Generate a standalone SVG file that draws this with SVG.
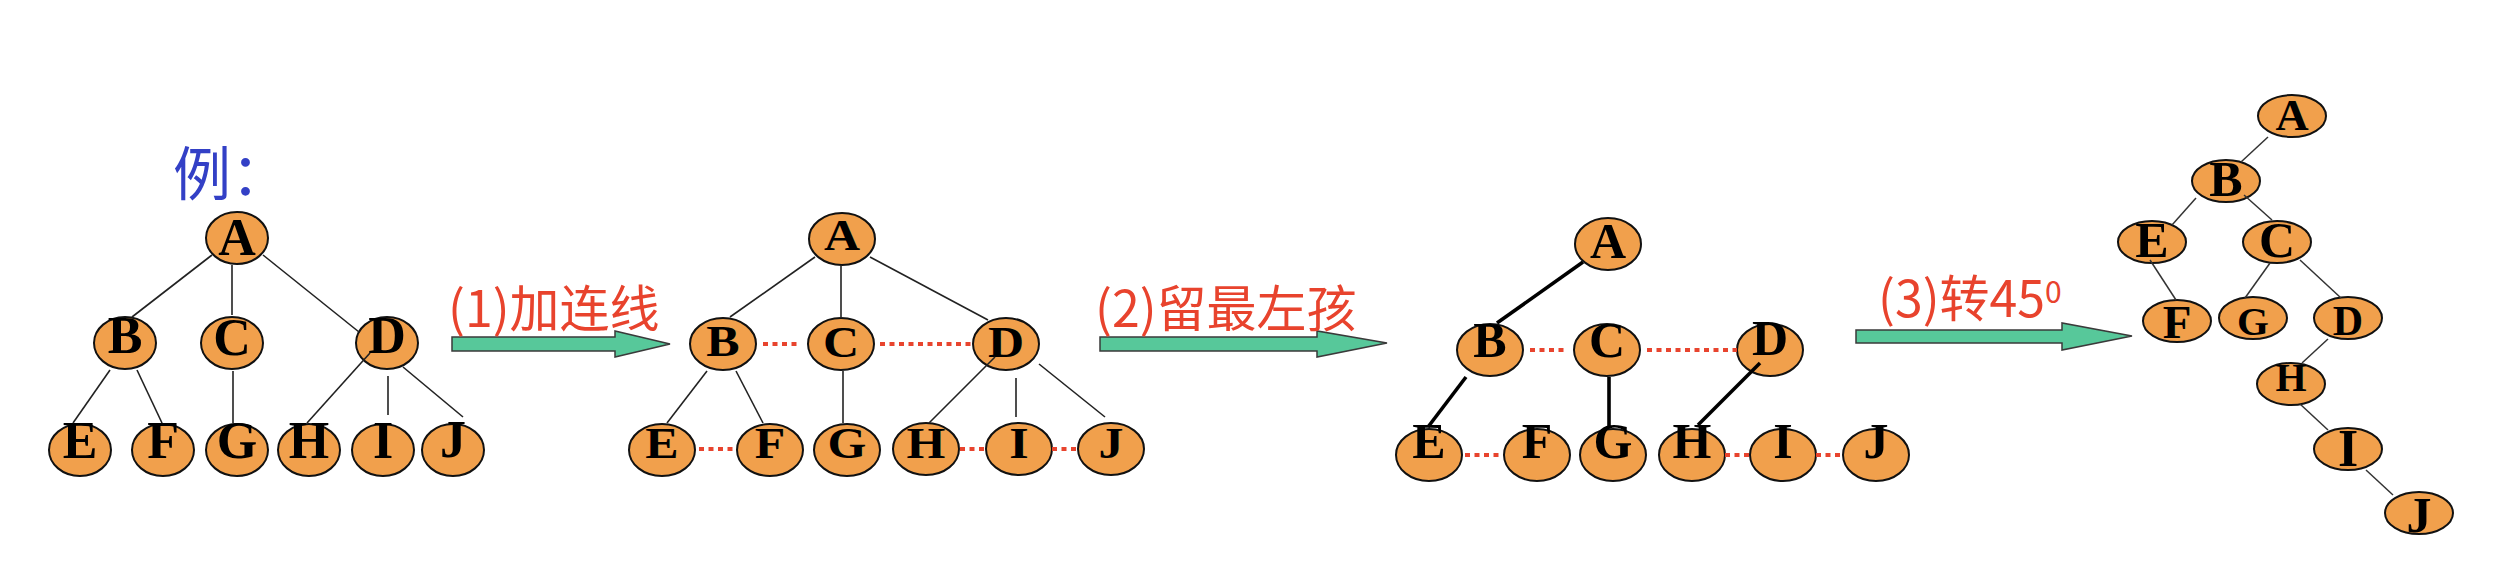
<svg xmlns="http://www.w3.org/2000/svg" width="2498" height="574" viewBox="0 0 2498 574">
<style>
.n ellipse{fill:#F1A04C;stroke:#111;stroke-width:2}
.n text{font-family:"Liberation Serif","Times New Roman",serif;font-weight:bold;fill:#000;text-anchor:middle}
.e1{stroke:#222;stroke-width:1.6;fill:none}
.e3{stroke:#000;stroke-width:3.6;fill:none}
.e4{stroke:#333;stroke-width:1.5;fill:none}
.dot{stroke:#E8442E;stroke-width:4;stroke-dasharray:5 4.5;fill:none}
.arr{fill:#57C89A;stroke:#3a3a3a;stroke-width:1.5}
.lbl{font-family:"Noto Sans CJK SC","Noto Sans",sans-serif;font-size:50px;fill:#E8432D}
</style>
<rect width="2498" height="574" fill="#fff"/>
<text x="173" y="195" style="font-family:'Noto Sans CJK SC','Noto Sans',sans-serif;font-size:58px;fill:#3340C6">例：</text>

<!-- Tree 1 nodes -->
<g id="t1" class="n" style="font-size:52px">
<g id="t1-A" transform="translate(237,238)"><ellipse rx="31" ry="26"/><text y="17" font-size="52">A</text></g>
<g id="t1-B" transform="translate(125,343)"><ellipse rx="31" ry="26"/><text y="10" font-size="52">B</text></g>
<g id="t1-C" transform="translate(232,343)"><ellipse rx="31" ry="26"/><text y="12" font-size="52">C</text></g>
<g id="t1-D" transform="translate(387,343)"><ellipse rx="31" ry="26"/><text y="10" font-size="52">D</text></g>
<g id="t1-E" transform="translate(80,450)"><ellipse rx="31" ry="26"/><text y="8" font-size="52">E</text></g>
<g id="t1-F" transform="translate(163,450)"><ellipse rx="31" ry="26"/><text y="8" font-size="52">F</text></g>
<g id="t1-G" transform="translate(237,450)"><ellipse rx="31" ry="26"/><text y="8" font-size="52">G</text></g>
<g id="t1-H" transform="translate(309,450)"><ellipse rx="31" ry="26"/><text y="8" font-size="52">H</text></g>
<g id="t1-I" transform="translate(383,450)"><ellipse rx="31" ry="26"/><text y="8" font-size="52">I</text></g>
<g id="t1-J" transform="translate(453,450)"><ellipse rx="31" ry="26"/><text y="7" font-size="52">J</text></g>
</g>

<!-- Tree 2 nodes -->
<g id="t2" class="n">
<g id="t2-A" transform="translate(842,239)"><ellipse rx="33" ry="26"/><text y="12.5" font-size="50" transform="scale(1,0.88)">A</text></g>
<g id="t2-B" transform="translate(723,344)"><ellipse rx="33" ry="26"/><text y="13.6" font-size="50" transform="scale(1,0.88)">B</text></g>
<g id="t2-C" transform="translate(841,344)"><ellipse rx="33" ry="26"/><text y="14.8" font-size="50" transform="scale(1,0.88)">C</text></g>
<g id="t2-D" transform="translate(1006,344)"><ellipse rx="33" ry="26"/><text y="14.8" font-size="50" transform="scale(1,0.88)">D</text></g>
<g id="t2-E" transform="translate(662,450)"><ellipse rx="33" ry="26"/><text y="9" font-size="50" transform="scale(1,0.88)">E</text></g>
<g id="t2-F" transform="translate(770,450)"><ellipse rx="33" ry="26"/><text y="9" font-size="50" transform="scale(1,0.88)">F</text></g>
<g id="t2-G" transform="translate(847,450)"><ellipse rx="33" ry="26"/><text y="9" font-size="50" transform="scale(1,0.88)">G</text></g>
<g id="t2-H" transform="translate(926,449)"><ellipse rx="33" ry="26"/><text y="10" font-size="50" transform="scale(1,0.88)">H</text></g>
<g id="t2-I" transform="translate(1019,449)"><ellipse rx="33" ry="26"/><text y="10" font-size="50" transform="scale(1,0.88)">I</text></g>
<g id="t2-J" transform="translate(1111,449)"><ellipse rx="33" ry="26"/><text y="10" font-size="50" transform="scale(1,0.88)">J</text></g>
</g>

<!-- Tree 3 nodes -->
<g id="t3" class="n">
<g id="t3-A" transform="translate(1608,244)"><ellipse rx="33" ry="26"/><text y="14" font-size="50">A</text></g>
<g id="t3-B" transform="translate(1490,350)"><ellipse rx="33" ry="26"/><text y="7" font-size="50">B</text></g>
<g id="t3-C" transform="translate(1607,350)"><ellipse rx="33" ry="26"/><text y="7" font-size="50">C</text></g>
<g id="t3-D" transform="translate(1770,350)"><ellipse rx="33" ry="26"/><text y="5" font-size="50">D</text></g>
<g id="t3-E" transform="translate(1429,455)"><ellipse rx="33" ry="26"/><text y="3" font-size="50">E</text></g>
<g id="t3-F" transform="translate(1537,455)"><ellipse rx="33" ry="26"/><text y="3" font-size="50">F</text></g>
<g id="t3-G" transform="translate(1613,455)"><ellipse rx="33" ry="26"/><text y="3" font-size="50">G</text></g>
<g id="t3-H" transform="translate(1692,455)"><ellipse rx="33" ry="26"/><text y="3" font-size="50">H</text></g>
<g id="t3-I" transform="translate(1783,455)"><ellipse rx="33" ry="26"/><text y="3" font-size="50">I</text></g>
<g id="t3-J" transform="translate(1876,455)"><ellipse rx="33" ry="26"/><text y="3" font-size="50">J</text></g>
</g>

<!-- Tree 4 nodes -->
<g id="t4" class="n">
<g id="t4-A" transform="translate(2292,116)"><ellipse rx="34" ry="21"/><text y="15" font-size="46" transform="scale(1,0.95)">A</text></g>
<g id="t4-B" transform="translate(2226,181)"><ellipse rx="34" ry="21"/><text y="15" font-size="50">B</text></g>
<g id="t4-E" transform="translate(2152,242)"><ellipse rx="34" ry="21"/><text y="15" font-size="50">E</text></g>
<g id="t4-C" transform="translate(2277,242)"><ellipse rx="34" ry="21"/><text y="15" font-size="50">C</text></g>
<g id="t4-F" transform="translate(2177,321)"><ellipse rx="34" ry="21"/><text y="17" font-size="47">F</text></g>
<g id="t4-G" transform="translate(2253,318)"><ellipse rx="34" ry="21"/><text y="17" font-size="41">G</text></g>
<g id="t4-D" transform="translate(2348,318)"><ellipse rx="34" ry="21"/><text y="17" font-size="42">D</text></g>
<g id="t4-H" transform="translate(2291,384)"><ellipse rx="34" ry="21"/><text y="7" font-size="40">H</text></g>
<g id="t4-I" transform="translate(2348,449)"><ellipse rx="34" ry="21"/><text y="17" font-size="52">I</text></g>
<g id="t4-J" transform="translate(2419,513)"><ellipse rx="34" ry="21"/><text y="19" font-size="50">J</text></g>
</g>

<!-- Connectors -->
<g id="connectors">
<g id="tree1-edges" class="e1">
<line x1="212" y1="255" x2="132" y2="317"/>
<line x1="232" y1="265" x2="232" y2="315"/>
<line x1="263" y1="255" x2="359" y2="332"/>
<line x1="110" y1="370" x2="73" y2="423"/>
<line x1="137" y1="370" x2="162" y2="423"/>
<line x1="233" y1="371" x2="233" y2="423"/>
<line x1="370" y1="353" x2="307" y2="423"/>
<line x1="388" y1="376" x2="388" y2="415"/>
<line x1="403" y1="367" x2="463" y2="417"/>
</g>
<g id="tree2-edges" class="e1">
<line x1="815" y1="257" x2="730" y2="317"/>
<line x1="841" y1="265" x2="841" y2="318"/>
<line x1="870" y1="257" x2="988" y2="320"/>
<line x1="707" y1="371" x2="667" y2="423"/>
<line x1="736" y1="371" x2="763" y2="423"/>
<line x1="843" y1="371" x2="843" y2="423"/>
<line x1="995" y1="357" x2="929" y2="423"/>
<line x1="1016" y1="378" x2="1016" y2="417"/>
<line x1="1039" y1="364" x2="1105" y2="417"/>
</g>
<g id="tree2-links" class="dot">
<line x1="763" y1="344" x2="800" y2="344"/>
<line x1="880" y1="344" x2="972" y2="344"/>
<line x1="699" y1="449" x2="735" y2="449"/>
<line x1="960" y1="449" x2="986" y2="449"/>
<line x1="1052" y1="449" x2="1078" y2="449"/>
</g>
<g id="tree3-edges" class="e3">
<line x1="1583" y1="262" x2="1497" y2="323"/>
<line x1="1466" y1="377" x2="1428" y2="427"/>
<line x1="1609" y1="377" x2="1609" y2="427"/>
<line x1="1760" y1="363" x2="1698" y2="425"/>
</g>
<g id="tree3-links" class="dot">
<line x1="1530" y1="350" x2="1567" y2="350"/>
<line x1="1647" y1="350" x2="1737" y2="350"/>
<line x1="1465" y1="455" x2="1500" y2="455"/>
<line x1="1725" y1="455" x2="1750" y2="455"/>
<line x1="1816" y1="455" x2="1843" y2="455"/>
</g>
<g id="tree4-edges" class="e4">
<line x1="2268" y1="137" x2="2241" y2="162"/>
<line x1="2196" y1="198" x2="2172" y2="225"/>
<line x1="2244" y1="195" x2="2272" y2="220"/>
<line x1="2150" y1="260" x2="2176" y2="300"/>
<line x1="2270" y1="263" x2="2245" y2="298"/>
<line x1="2300" y1="260" x2="2341" y2="298"/>
<line x1="2328" y1="339" x2="2302" y2="363"/>
<line x1="2300" y1="404" x2="2328" y2="430"/>
<line x1="2366" y1="470" x2="2393" y2="495"/>
</g>
</g>

<!-- Step arrows and labels -->
<g id="step1">
<polygon class="arr" points="452,337 615,337 615,331 670,344 615,357 615,351 452,351"/>
<text class="lbl" x="448" y="327">(1)加连线</text>
</g>
<g id="step2">
<polygon class="arr" points="1100,337 1317,337 1317,331 1387,343 1317,357 1317,351 1100,351"/>
<text class="lbl" x="1095" y="327">(2)留最左孩</text>
</g>
<g id="step3">
<polygon class="arr" points="1856,330 2062,330 2062,323 2132,336 2062,350 2062,343 1856,343"/>
<text class="lbl" x="1878" y="317">(3)转45<tspan font-size="30" dy="-14">0</tspan></text>
</g>
</svg>
